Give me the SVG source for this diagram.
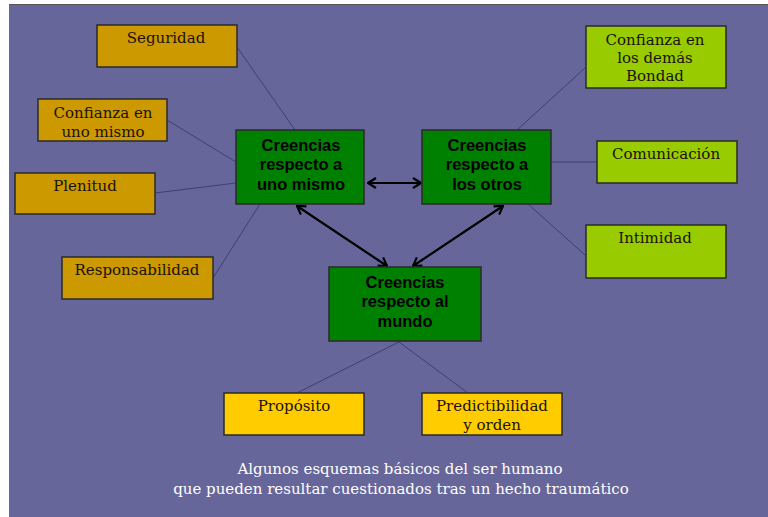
<svg xmlns="http://www.w3.org/2000/svg" width="768" height="517" viewBox="0 0 768 517">
<defs>
<style>
.bg{fill:#66669a}
.box{stroke:#2a2a2a;stroke-width:1.5}
.org{fill:#cc9900}
.lg{fill:#99cc00}
.yl{fill:#ffcc00}
.gr{fill:#008000}
.lbl{font-family:"DejaVu Serif","Liberation Serif",serif;font-size:15px;fill:#1a1208;text-anchor:middle}
.ctr{font-family:"Liberation Sans",Arial,sans-serif;font-weight:bold;font-size:16.5px;fill:#000;text-anchor:middle}
.cap{font-family:"DejaVu Serif","Liberation Serif",serif;font-size:15px;fill:#ffffff;text-anchor:middle}
.thin{stroke:#3f3f78;stroke-width:1;fill:none}
.arr{stroke:#000;stroke-width:2.2;fill:none;marker-start:url(#ah);marker-end:url(#ah)}
</style>
<marker id="ah" viewBox="0 0 12 12" refX="11" refY="6" markerWidth="12" markerHeight="12" markerUnits="userSpaceOnUse" orient="auto-start-reverse">
<polyline points="3,1 11,6 3,11" fill="none" stroke="#000" stroke-width="2.2"/>
</marker>
</defs>
<rect x="0" y="0" width="768" height="517" fill="#ffffff"/>
<rect class="bg" x="9" y="5" width="759" height="512"/>
<line x1="9" y1="4.5" x2="768" y2="4.5" stroke="#555" stroke-width="1"/>

<g id="connectors">
<line class="thin" x1="237" y1="47" x2="295" y2="130"/>
<line class="thin" x1="167" y1="120" x2="236" y2="162"/>
<line class="thin" x1="155" y1="193" x2="236" y2="183"/>
<line class="thin" x1="213" y1="278" x2="260" y2="204"/>
<line class="thin" x1="585" y1="68" x2="517" y2="130"/>
<line class="thin" x1="551" y1="162" x2="597" y2="162"/>
<line class="thin" x1="528" y1="204" x2="585" y2="255"/>
<line class="thin" x1="399" y1="342" x2="297" y2="393"/>
<line class="thin" x1="399" y1="342" x2="468" y2="393"/>
<line class="arr" x1="368" y1="183" x2="421" y2="183"/>
<line class="arr" x1="297" y1="206" x2="387" y2="266"/>
<line class="arr" x1="503" y1="206" x2="413" y2="266"/>
</g>

<g id="n-uno-mismo">
<rect class="box gr" x="236" y="130" width="128" height="74"/>
<text class="ctr" x="301" y="151">Creencias</text>
<text class="ctr" x="301" y="170">respecto a</text>
<text class="ctr" x="301" y="190">uno mismo</text>
</g>
<g id="n-otros">
<rect class="box gr" x="422" y="130" width="129" height="74"/>
<text class="ctr" x="487" y="151">Creencias</text>
<text class="ctr" x="487" y="170">respecto a</text>
<text class="ctr" x="487" y="190">los otros</text>
</g>
<g id="n-mundo">
<rect class="box gr" x="329" y="267" width="152" height="74"/>
<text class="ctr" x="405" y="288">Creencias</text>
<text class="ctr" x="405" y="307">respecto al</text>
<text class="ctr" x="405" y="327">mundo</text>
</g>

<g id="n-seguridad">
<rect class="box org" x="97" y="25" width="140" height="42"/>
<text class="lbl" x="166" y="43">Seguridad</text>
</g>
<g id="n-confianza-uno">
<rect class="box org" x="38" y="99" width="129" height="42"/>
<text class="lbl" x="103" y="118">Confianza en</text>
<text class="lbl" x="103" y="137">uno mismo</text>
</g>
<g id="n-plenitud">
<rect class="box org" x="15" y="173" width="140" height="41"/>
<text class="lbl" x="85" y="191">Plenitud</text>
</g>
<g id="n-responsabilidad">
<rect class="box org" x="62" y="257" width="151" height="42"/>
<text class="lbl" x="137" y="275">Responsabilidad</text>
</g>

<g id="n-confianza-demas">
<rect class="box lg" x="586" y="26" width="140" height="62"/>
<text class="lbl" x="655" y="45">Confianza en</text>
<text class="lbl" x="655" y="63">los demás</text>
<text class="lbl" x="655" y="81">Bondad</text>
</g>
<g id="n-comunicacion">
<rect class="box lg" x="597" y="141" width="140" height="42"/>
<text class="lbl" x="666" y="159">Comunicación</text>
</g>
<g id="n-intimidad">
<rect class="box lg" x="586" y="225" width="140" height="53"/>
<text class="lbl" x="655" y="243">Intimidad</text>
</g>

<g id="n-proposito">
<rect class="box yl" x="224" y="393" width="140" height="42"/>
<text class="lbl" x="294" y="411">Propósito</text>
</g>
<g id="n-predictibilidad">
<rect class="box yl" x="422" y="393" width="140" height="42"/>
<text class="lbl" x="492" y="411">Predictibilidad</text>
<text class="lbl" x="492" y="430">y orden</text>
</g>

<g id="caption">
<text class="cap" x="400" y="474">Algunos esquemas básicos del ser humano</text>
<text class="cap" x="401" y="494">que pueden resultar cuestionados tras un hecho traumático</text>
</g>
</svg>
